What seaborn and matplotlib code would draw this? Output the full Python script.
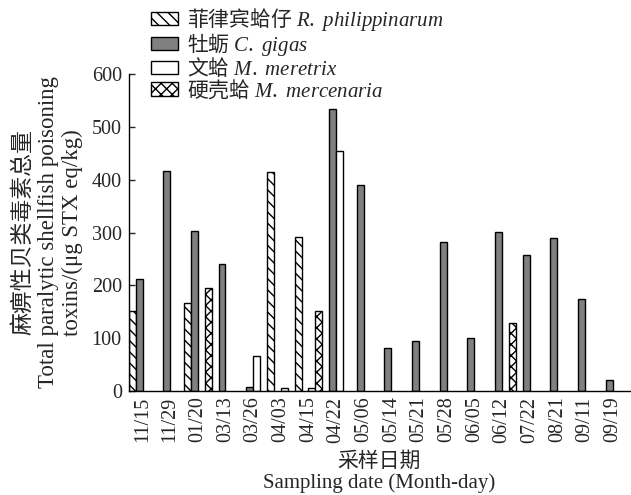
import numpy as np
import pandas as pd
import matplotlib
matplotlib.use("Agg")
import matplotlib.pyplot as plt
import seaborn as sns

# Sampling dates and PST totals (µg STX eq/kg) per species
dates = ["11/15", "11/29", "01/20", "03/13", "03/26", "04/03", "04/15", "04/22", "05/06",
         "05/14", "05/21", "05/28", "06/05", "06/12", "07/22", "08/21", "09/11", "09/19"]
philippinarum = [152, np.nan, 166, np.nan, np.nan, 415, 292, np.nan, np.nan,
                 np.nan, np.nan, np.nan, np.nan, np.nan, np.nan, np.nan, np.nan, np.nan]
gigas = [212, 416, 303, 240, 8, np.nan, np.nan, 534, 390,
         81, 94, 282, 101, 301, 257, 290, 174, 21]
meretrix = [np.nan, np.nan, np.nan, np.nan, 66, 5, 5, 454, np.nan,
            np.nan, np.nan, np.nan, np.nan, np.nan, np.nan, np.nan, np.nan, np.nan]
mercenaria = [np.nan, np.nan, 195, np.nan, np.nan, np.nan, 152, np.nan, np.nan,
              np.nan, np.nan, np.nan, np.nan, 128, np.nan, np.nan, np.nan, np.nan]

species = ["R. philippinarum", "C. gigas", "M. meretrix", "M. mercenaria"]
species_cn = ["菲律宾蛤仔", "牡蛎", "文蛤", "硬壳蛤"]

sns.set_theme(style="ticks")
plt.rcParams['font.family'] = ['Liberation Serif', 'Noto Sans CJK SC']
plt.rcParams['mathtext.fontset'] = 'custom'
plt.rcParams['mathtext.it'] = 'Liberation Serif:italic'
plt.rcParams['mathtext.rm'] = 'Noto Sans CJK SC'
plt.rcParams['hatch.linewidth'] = 1.0

df = pd.DataFrame({
    'date': dates * 4,
    'species': np.repeat(species, len(dates)),
    'value': philippinarum + gigas + meretrix + mercenaria,
})
df = df.dropna()

fig = plt.figure(figsize=(6.31, 4.95), dpi=100)
ax = fig.add_axes([0.204, 0.210, 0.794, 0.6405])

sns.barplot(data=df, x='date', y='value', hue='species', order=dates, hue_order=species,
            width=1.0, dodge=True, palette=['white', '#808080', 'white', 'white'],
            edgecolor='black', linewidth=1.0, saturation=1, errorbar=None,
            legend=False, ax=ax)

hatches = ['\\\\\\', '', '', 'xxx']
for cont, h in zip(ax.containers, hatches):
    for bar in cont:
        bar.set_hatch(h)

ax.set_ylim(0, 600)
ax.set_xlim(-0.5, 17.62)
ax.set_yticks(range(0, 601, 100))
ax.tick_params(axis='y', direction='in', length=4, labelsize=14.5, width=1, pad=5)
ax.tick_params(axis='x', length=0, labelsize=14.5, rotation=90, pad=4)
for s in ['top', 'right']:
    ax.spines[s].set_visible(False)
for s in ['left', 'bottom']:
    ax.spines[s].set_linewidth(1.0)
    ax.spines[s].set_color('black')

ax.set_ylabel("麻痹性贝类毒素总量\nTotal paralytic shellfish poisoning\ntoxins/(μg STX eq/kg)",
              fontsize=16.5, linespacing=1.2, labelpad=6)
ax.set_xlabel("采样日期\nSampling date (Month-day)", fontsize=15, linespacing=1.1, labelpad=7)

labels = ["$\\mathrm{%s}\\ \\mathit{%s}$" % (cn, sp.replace(' ', '\\ '))
          for cn, sp in zip(species_cn, species)]
leg = ax.legend(ax.containers, labels, loc='upper left', bbox_to_anchor=(0.045, 1.215),
                frameon=False, fontsize=15, handlelength=1.3, handleheight=0.6,
                handletextpad=0.4, labelspacing=-0.1, borderaxespad=0, borderpad=0)

fig.savefig("out.png", dpi=100)
